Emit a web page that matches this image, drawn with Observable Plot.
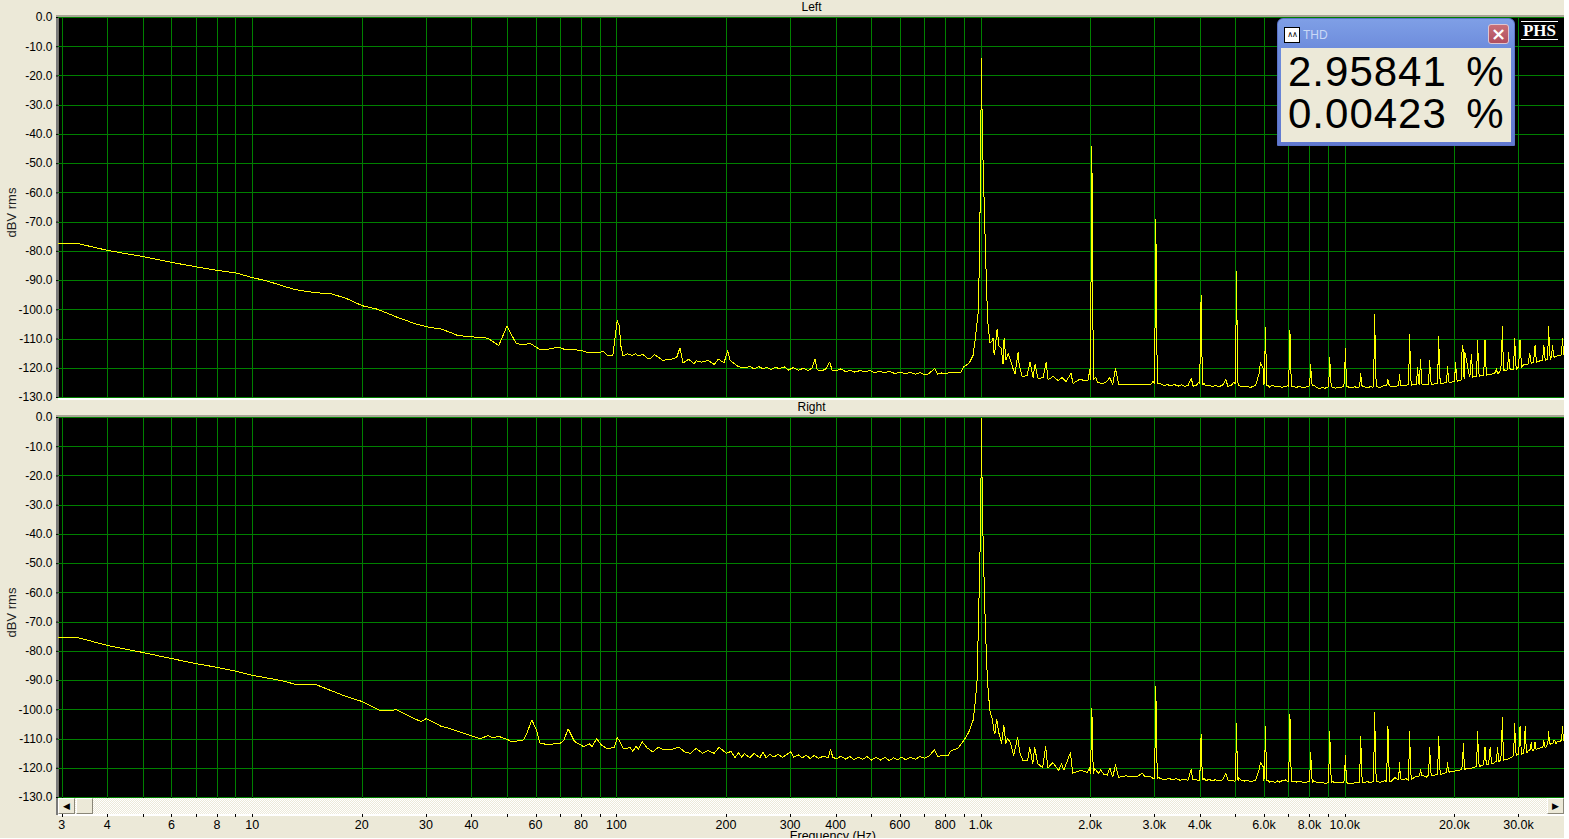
<!DOCTYPE html>
<html>
<head>
<meta charset="utf-8">
<script src="https://cdn.jsdelivr.net/npm/d3@7"></script>
<script src="https://cdn.jsdelivr.net/npm/@observablehq/plot@0.6"></script>
<style>
html,body{margin:0;padding:0;background:#fff;overflow:hidden}
#page{position:relative;width:1564px;height:838px;background:#ece9d8;overflow:hidden;font-family:"Liberation Sans",Arial,sans-serif}
#page > div.panel{position:absolute;left:0;width:1569px;z-index:1}
.strip{position:absolute;background:#fff;z-index:0}
.edge{position:absolute;z-index:0}
#scroll{position:absolute;left:58px;top:798px;width:1506px;height:16px;z-index:2;
 background-color:#f6f4ec;background-image:repeating-conic-gradient(#ece9d8 0 25%,#fff 0 50%);background-size:2px 2px}
.sbtn{position:absolute;top:0;width:15px;background:#ece9d8;border:1px solid;border-color:#fff #8a8778 #8a8778 #fff;box-sizing:content-box;height:14px;font-size:9px;line-height:14px;text-align:center;color:#000;font-family:"DejaVu Sans"}
#thd{position:absolute;left:1277px;top:18px;width:238px;height:128px;z-index:3;box-sizing:border-box;background:linear-gradient(#7f9fe6 0,#6d8cdc 30px,#6179d0 100%);border-radius:6px 6px 0 0;border:1px solid #5a72c8}
#thdTitle{position:absolute;left:25px;top:9px;color:#c9d8f6;font-size:12px}
#thdIcon{position:absolute;left:6px;top:8px;width:14px;height:14px;background:#fff;border:1px solid #000;font:8px/14px "DejaVu Sans";text-align:center;color:#000;overflow:hidden;letter-spacing:-1px}
#thdClose{position:absolute;left:210px;top:5px;width:19px;height:18px;background:linear-gradient(#c86f78,#b04e60);border:1px solid #dfc5d0;border-radius:3px;color:#fff;font:bold 18px/18px "DejaVu Sans";text-align:center}
#thdBody{position:absolute;left:3px;top:29px;width:230px;height:94px;background:#ece9d8}
#thdVals{position:absolute;left:7px;top:3px;font-size:42px;line-height:42px;letter-spacing:1px;word-spacing:-3px;color:#000;white-space:pre}
#phs{position:absolute;left:1521px;top:21px;width:37px;height:17px;border-top:1px solid #fff;border-bottom:1px solid #fff;color:#fff;z-index:3;font:bold 17px/17px "Liberation Serif",serif;text-align:center}
</style>
</head>
<body>
<div id="page">
  <div class="strip" style="left:58px;top:398px;width:1506px;height:2px"></div>
  <div class="strip" style="left:58px;top:814px;width:1506px;height:2px"></div>
  <div class="edge" style="left:56px;top:15px;width:1508px;height:2px;background:#a8a596"></div>
  <div class="edge" style="left:56px;top:17px;width:2px;height:381px;background:#7a7a7a"></div>
  <div class="edge" style="left:56px;top:415px;width:1508px;height:2px;background:#a8a596"></div>
  <div class="edge" style="left:56px;top:417px;width:2px;height:398px;background:#7a7a7a"></div>
  <div id="scroll">
    <div class="sbtn" style="left:0">&#9664;</div>
    <div class="sbtn" style="left:18px"></div>
    <div class="sbtn" style="right:0">&#9654;</div>
  </div>
  <div id="thd">
    <div id="thdIcon">&#8743;&#8743;</div>
    <div id="thdTitle">THD</div>
    <div id="thdClose">&#215;</div>
    <div id="thdBody">
      <div id="thdVals">2.95841  %
0.00423  %</div>
    </div>
  </div>
  <div id="phs">PHS</div>
</div>
<script>
// Axis content
const gridFreqs = [3,4,5,6,7,8,9,10,20,30,40,50,60,70,80,90,100,200,300,400,500,600,700,800,900,1000,2000,3000,4000,5000,6000,7000,8000,9000,10000,20000,30000];
const labelFreqs = [3,4,6,8,10,20,30,40,60,80,100,200,300,400,600,800,1000,2000,3000,4000,6000,8000,10000,20000,30000];
const labelTexts = ["3","4","6","8","10","20","30","40","60","80","100","200","300","400","600","800","1.0k","2.0k","3.0k","4.0k","6.0k","8.0k","10.0k","20.0k","30.0k"];
const dbTicks = [0,-10,-20,-30,-40,-50,-60,-70,-80,-90,-100,-110,-120,-130];
const panelTitles = ["Left","Right"];
const xTitle = "Frequency (Hz)";
const yTitle = "dBV rms";

// Left channel: [Hz, dBV]
const leftLow = [[2.93,-77.3],[3.33,-77.4],[4,-79.7],[5,-81.8],[6,-83.8],[7,-85.3],[8,-86.5],[9,-87.4],[10,-89],[11,-90.2],[12,-91.7],[13,-93],[14,-93.7],[15.4,-94.3],[16.5,-94.6],[18,-96],[20,-98.6],[22,-99.8],[25,-102.6],[28,-104.8],[30,-105.8],[33,-106.6],[35,-107.8],[36.6,-108.8],[39.7,-109.2],[44.2,-109.7],[47.4,-112.2],[49.9,-105.6],[52.8,-111.3],[54.5,-111.9],[58,-111.6],[61.5,-113.6],[65.5,-113.4],[69,-112.7],[72,-113.6],[79.5,-113.8],[83,-114.6],[92,-114.4],[94.5,-115.7],[97.5,-115.7],[100.2,-103.7],[101.5,-105.4],[102.7,-112.8],[104,-115.7],[107,-115.1],[110.5,-115.6],[112.5,-115],[114.5,-115.7],[118,-115.3],[121,-116.5],[123.5,-116.8],[127,-115.3],[133.5,-117.3],[141.5,-116.9],[146,-116.3],[149,-113],[152,-118.2],[157.5,-116.9],[163,-118.5],[165,-117.4],[170.5,-117.9],[178,-117.3],[185,-118.7],[190,-116.9],[197,-118.1],[201.5,-113.9],[204.5,-117.3],[216,-119.5]];
const leftMid = [[225,-119.9],[232,-119.3],[238,-120.3],[245,-119.4],[252,-120.2],[258,-119.6],[265,-120.5],[272,-119.7],[280,-120.1],[288,-119.5],[296,-120.6],[305,-119.8],[315,-120.7],[325,-120],[335,-120.8],[343,-120],[350,-116.8],[355,-120.5],[365,-120.9],[375,-120.2],[384,-117.8],[390,-120.7],[400,-120.9],[412,-120.2],[425,-121.2],[437,-120.6],[450,-121.3],[465,-120.8],[480,-121.2],[495,-120.8],[510,-121.6],[525,-121],[540,-121.5],[560,-121.1],[580,-121.8],[600,-121.3],[620,-121.9],[640,-121.4],[660,-122],[680,-121.5],[700,-122.3],[720,-121.8],[746,-120],[760,-122],[780,-121.6],[800,-121.9]];
const leftMain = [[827,-121.3],[881,-121.3],[898,-119.4],[927,-118.3],[951,-115.6],[963,-110.5],[981,-101.4],[987,-90],[994,-65],[1000,-31],[1003,-13.7],[1006,-31],[1013,-50],[1026,-75],[1034,-90],[1039,-97.9],[1045,-104.8],[1058,-111.3],[1072,-110.6],[1079,-109.6],[1086,-115.3],[1092,-113.9],[1107,-106.7],[1120,-112.3],[1135,-113],[1149,-118.4],[1157,-109.6],[1171,-117.3],[1186,-115],[1201,-116.7],[1224,-120.1],[1240,-121.9],[1264,-114.6],[1272,-118.4],[1296,-122.8],[1338,-122.5],[1363,-118],[1390,-123.2],[1407,-118.7],[1434,-123.5],[1480,-123.2],[1509,-118],[1528,-123.9],[1577,-122.8],[1628,-124.2],[1669,-123.2],[1712,-124.5],[1766,-121.8],[1789,-125.2],[1858,-123.9],[1966,-124.2],[1992,-120.1]];
const leftFloor = [[2065,-123],[2090,-124.8],[2150,-125.2],[2200,-124.9],[2257,-123.2],[2300,-125.6],[2340,-120.1],[2390,-125.6],[2450,-125.7],[2520,-125.5],[2600,-125.6],[2680,-125.4],[2750,-125.7],[2850,-125.6],[2920,-125.5],[2970,-124.5],[3080,-125],[3130,-125.5],[3180,-125.9],[3250,-125.6],[3320,-126],[3400,-125.6],[3480,-126.1],[3550,-125.7],[3630,-126.2],[3700,-125.9],[3780,-123.5],[3820,-126.1],[3900,-125.9],[3960,-124.8],[4100,-125.3],[4140,-126],[4200,-125.7],[4300,-126.2],[4400,-126],[4500,-126.2],[4600,-125.9],[4700,-123.9],[4760,-126.1],[4850,-126],[4960,-124.6],[5100,-125.9],[5180,-126.2],[5280,-126.4],[5380,-126.1],[5480,-126.6],[5580,-126.2],[5680,-125.8],[5800,-121.8],[5850,-118],[5950,-120],[6130,-125.8],[6200,-126.4],[6300,-125.8],[6420,-126.3],[6550,-126.2],[6700,-126.5],[6850,-126.3],[6960,-125.9],[7200,-126.3],[7350,-126.5],[7500,-126.2],[7650,-126.6],[7800,-126.4],[7950,-126.2],[8200,-125.8],[8350,-126.6],[8500,-127],[8650,-126.6],[8800,-126.8],[8950,-126.5],[9250,-126.5],[9400,-126.8],[9550,-126.4],[9700,-126.7],[9850,-126.3],[10200,-126.4],[10400,-126.7],[10600,-126.3],[10800,-126.6],[11300,-126.4],[11500,-126.6],[11750,-126.3],[11920,-126.5],[12300,-126.4],[12500,-126.5],[12800,-125.9],[13400,-126.2],[13700,-126.3],[13950,-125.9],[14400,-126],[14700,-125.9],[14880,-125.6],[15300,-125.7],[15600,-125.6],[16350,-125.5],[16800,-125.6],[17300,-125.5],[17700,-125.3],[18400,-125.2],[18800,-125],[19400,-124.8],[19900,-124.6],[20500,-124.2],[20800,-124],[21300,-114.6],[21600,-118.3],[21900,-122.4],[22600,-122.9],[23600,-122.5],[24000,-122.4],[24800,-122],[25200,-122.1],[25700,-121.5],[26400,-121.6],[26600,-120.9],[27400,-120.5],[27800,-120.8],[28600,-120.4],[29000,-120.3],[29800,-119.8],[30600,-119.3],[31000,-118.7],[31600,-118.9],[32500,-118],[33600,-117.9],[34600,-117.2],[35600,-117],[36600,-116.4],[37600,-116],[38500,-115.7],[39000,-115.5],[40000,-114.5]];
const leftSpikeFreq     = [2015,3020,4020,5030,6040,7050,8040,9070,10010,11030,12050,13100,14100,15030,15800,16100,17060,18060,19100,20100,21000,22200,23100,24200,26000,27000,28100,29200,30200,32100,33200,35100,36200,37100,39500];
const leftSpikeFloor    = [-124,-125.2,-125.5,-125.5,-125.8,-126.2,-126,-126.3,-126.2,-126.4,-126.3,-126,-126,-125.8,-125.6,-125.6,-125.5,-125.3,-125,-124.5,-123.8,-123,-122.8,-122.4,-121.8,-120.8,-120.5,-120.4,-119.8,-118.4,-118,-117.3,-117,-116.3,-115.6];
const leftSpikeShoulder = [-74.3,-96.5,-109.4,-105,-115,-116.5,-122.5,-121.7,-119.4,-124.2,-114.2,-125,-124.2,-117,-122.5,-120.5,-121,-117,-122,-121,-113.8,-118,-116.8,-116.5,-121,-113.2,-117.5,-114.7,-113.6,-116,-114.5,-114.5,-111.5,-114,-112.5];
const leftSpikeTop      = [-44,-69.1,-94.8,-86.6,-106,-107,-118.5,-116.2,-112.9,-121.5,-101.6,-123.8,-121.9,-108.2,-119.6,-116.8,-117.3,-108.8,-119.1,-118,-111.9,-115.2,-110.5,-110.2,-120,-105.4,-114.5,-109.6,-110.2,-114.7,-112.2,-111.9,-105.7,-111.9,-109.6];

// Right channel: [Hz, dBV]
const rightLow = [[2.93,-75.3],[3.33,-75.4],[4,-78],[5,-80.4],[6,-82.5],[7,-84.2],[8,-85.5],[9,-86.8],[10,-88.2],[12,-90],[13.2,-91.4],[15,-91.5],[17.5,-94.8],[20,-97.2],[22.5,-100.4],[24.8,-100],[27.3,-102.6],[29,-104],[30,-103],[33,-105.7],[35,-106.5],[36.6,-107.4],[39,-108.5],[42.3,-109.9],[44.2,-108.8],[45.7,-109.6],[47.4,-109.1],[50.2,-110.2],[51.5,-111],[55.5,-110.3],[57,-107.1],[58.4,-103.4],[60.2,-107.1],[61.5,-111.4],[64.5,-111.9],[70,-111.4],[71.5,-110.5],[73.5,-106.5],[76.5,-110.8],[81,-112.6],[84,-111.6],[85.5,-112.6],[88,-109.9],[90.5,-111.9],[94,-113.4],[98.5,-112.8],[100.2,-109.6],[101.5,-110.3],[104,-113.2],[109,-113],[110.5,-114.2],[113,-112.5],[114.5,-113.4],[117.5,-111],[121,-113],[125.5,-114.4],[130,-112.8],[135,-113.7],[141.5,-113.5],[148,-112.8],[154,-114.5],[159.5,-114.9],[165,-113.2],[172,-114.9],[178,-113.9],[185,-114.9],[191,-112.8],[200,-114.9],[206,-114.2],[211,-116.4],[216,-114.7],[220,-116.2],[224,-115],[232,-116.4],[238,-114.9],[247,-116.4],[252,-114.4],[257,-116.4],[263,-115.2]];
const rightMid = [[270,-116.2],[277,-115.2],[285,-116.3],[292,-115.4],[300,-114.4],[306,-116.2],[315,-115.4],[323,-116.4],[331,-115.5],[340,-116.7],[348,-115.6],[358,-116.6],[370,-115.8],[380,-116.5],[386,-113.6],[392,-116.3],[402,-116.8],[412,-115.8],[425,-116.9],[436,-116],[448,-117],[460,-116.2],[473,-117],[486,-116],[500,-117.2],[515,-116.3],[530,-117.2],[545,-116.2],[560,-117.4],[575,-116.4],[590,-117.1],[605,-116.2],[620,-117],[640,-116.3],[660,-116.9],[680,-116],[700,-116.6],[720,-115.8],[745,-113.7],[760,-116],[785,-115.5],[810,-115.8]];
const rightMain = [[827,-114],[863,-113.2],[897,-110.5],[925,-107.7],[951,-103.6],[963,-97.9],[975,-90],[984,-70],[994,-45],[1000,-20],[1003,-0.3],[1006,-20],[1014,-45],[1028,-72],[1041,-90],[1057,-100.2],[1076,-103.6],[1083,-107],[1092,-108.1],[1104,-103],[1118,-107.7],[1139,-111.5],[1155,-105.3],[1169,-111.5],[1184,-109.8],[1206,-111.5],[1229,-115.6],[1260,-109.4],[1277,-114.6],[1302,-117.3],[1342,-117.3],[1360,-112.9],[1387,-118.4],[1404,-112.9],[1431,-118.4],[1476,-119.8],[1505,-112.5],[1525,-120],[1574,-118],[1634,-120.7],[1665,-118.4],[1687,-120.7],[1760,-114.6],[1785,-121.7],[1880,-120.7],[1960,-121.4],[1988,-119.8]];
const rightFloor = [[2050,-120.1],[2104,-121.7],[2130,-120.6],[2170,-122],[2220,-122.3],[2257,-119.8],[2300,-123.1],[2340,-118.7],[2385,-123.1],[2440,-122.8],[2500,-122.6],[2600,-123],[2680,-122.8],[2775,-121.7],[2820,-123],[2900,-122.7],[2970,-123.5],[3070,-123.2],[3130,-123.6],[3200,-124],[3280,-123.4],[3350,-124],[3430,-123.5],[3520,-124.1],[3600,-123.8],[3700,-124.1],[3780,-120.2],[3810,-124],[3900,-123.9],[3960,-124.3],[4090,-123.4],[4150,-124.2],[4230,-123.8],[4310,-124.3],[4400,-123.9],[4500,-124.4],[4600,-124],[4700,-121.8],[4760,-124],[4850,-124.2],[4960,-124.4],[5100,-123.2],[5180,-124.1],[5280,-124.4],[5380,-124],[5480,-124.5],[5580,-124.4],[5680,-124],[5800,-120.5],[5850,-118],[5950,-119.5],[6130,-124.2],[6200,-124.7],[6300,-124.4],[6420,-124.9],[6520,-124.3],[6600,-124.7],[6720,-124.2],[6850,-124],[6960,-124.6],[7200,-124.4],[7350,-124.7],[7500,-124.5],[7650,-124.8],[7800,-124.8],[7950,-124.5],[8200,-124.3],[8350,-124.8],[8500,-125],[8650,-124.7],[8800,-125.2],[8950,-125],[9250,-124.6],[9400,-125],[9550,-124.7],[9700,-125],[9850,-124.8],[10200,-125.1],[10400,-125.2],[10600,-125],[10800,-125],[11300,-124.8],[11500,-124.6],[11750,-124.9],[11900,-124.6],[12300,-124.6],[12500,-124.8],[12800,-124.3],[13400,-124.4],[13700,-123.2],[13950,-124],[14400,-123.8],[14700,-123.6],[14880,-124],[15300,-123.6],[15600,-122.8],[15800,-122.9],[16350,-122.5],[16700,-123],[17300,-122.6],[17700,-122.2],[18400,-122],[18800,-121.6],[19400,-121],[19900,-121],[20400,-120.7],[20800,-120.5],[21500,-120.2],[22000,-120.2],[22600,-119.7],[23600,-119.2],[24700,-118.6],[25500,-118.4],[25900,-117.6],[26500,-117.3],[27500,-117],[28000,-116.8],[28700,-116.2],[29700,-115.4],[30700,-115],[31600,-114.6],[32000,-113.6],[32800,-113.8],[33600,-113.4],[34400,-113],[35200,-112.6],[35900,-111.9],[36600,-111.4],[37400,-112],[38200,-111],[39000,-110.7],[40000,-110]];
const rightSpikeFreq     = [2015,3020,4020,5030,6040,7050,8040,9070,10010,11030,12050,13100,14100,15030,16100,17060,18060,19100,21100,23100,24200,25000,26200,27000,29200,30200,31200,32400,33200,35100,36200,37500,39500];
const rightSpikeFloor    = [-122,-123.5,-124,-124.3,-124.2,-124.4,-124.8,-124.8,-125,-124.8,-124.6,-124.4,-124,-123.8,-122.7,-122.5,-122,-121.5,-120.3,-119.3,-118.8,-118.4,-118,-117.2,-115.8,-115.2,-114.8,-114.2,-113.8,-113,-112,-111.6,-110.6];
const rightSpikeShoulder = [-109.6,-107.7,-116.4,-114.6,-114.4,-113.2,-119.4,-116.2,-120.2,-116.7,-111.9,-113.7,-121.3,-115.3,-121.5,-117.7,-115.4,-119.8,-115.9,-113.6,-115.9,-115,-115,-109.7,-110.2,-110.2,-110.4,-113,-113,-112,-110.5,-110.6,-108.2];
const rightSpikeTop      = [-99.5,-91.7,-108.4,-104.4,-105.7,-101.6,-114.6,-107.4,-115.3,-108.8,-100.6,-105.4,-118,-107.4,-120.1,-112.6,-108.8,-117.7,-111.4,-107.4,-112.8,-112.8,-112.8,-102.5,-104.6,-105.7,-105.7,-111.1,-111.1,-110.5,-107.4,-110.5,-105.4];

// Assemble one drawable table per channel: the read floor plus each read peak's floor, shoulder and top.
function buildTrace(floors, freq, floor, shoulder, top) {
  const clear = floors.filter(([f]) => !freq.some(s => Math.abs(f / s - 1) < 0.0095));
  const rows = clear.map(([f, db]) => ({f, db}));
  freq.forEach((s, i) => {
    rows.push({f: s * 0.9905, db: floor[i]}, {f: s * 0.9968, db: shoulder[i]}, {f: s, db: top[i]},
              {f: s * 1.0032, db: shoulder[i]}, {f: s * 1.0095, db: floor[i]});
  });
  return rows.sort((a, b) => a.f - b.f);
}
const leftTrace = buildTrace([...leftLow, ...leftMid, ...leftMain, ...leftFloor], leftSpikeFreq, leftSpikeFloor, leftSpikeShoulder, leftSpikeTop);
const rightTrace = buildTrace([...rightLow, ...rightMid, ...rightMain, ...rightFloor], rightSpikeFreq, rightSpikeFloor, rightSpikeShoulder, rightSpikeTop);

const labelOf = new Map(labelFreqs.map((f, i) => [f, labelTexts[i]]));

function panel(title, trace, top, height, marginBottom, withAxis) {
  const marks = [
    Plot.frame({fill: "#000", stroke: "none"}),
    Plot.ruleX(gridFreqs, {stroke: "#008000", strokeOpacity: 1, strokeWidth: 1, shapeRendering: "crispEdges"}),
    Plot.ruleY(dbTicks, {stroke: "#008000", strokeOpacity: 1, strokeWidth: 1, shapeRendering: "crispEdges"}),
    Plot.line(trace, {x: "f", y: "db", stroke: "#ffff00", strokeWidth: 1, shapeRendering: "crispEdges", strokeLinejoin: "miter", strokeMiterlimit: 2}),
    Plot.axisY({ticks: dbTicks, tickFormat: d => d.toFixed(1), tickSize: 2, tickPadding: 4, label: null, stroke: "#000"}),
    Plot.text([title], {text: d => d, frameAnchor: "top", dy: -10.5, lineAnchor: "middle", fill: "#000"}),
    Plot.text([yTitle], {text: d => d, y: () => -66.7, frameAnchor: "left", textAnchor: "middle", dx: -47, rotate: -90, fill: "#222", fontSize: 13})
  ];
  if (withAxis) {
    marks.push(
      Plot.axisX({ticks: gridFreqs, tickFormat: () => "", tickSize: 20, tickPadding: 0, label: null, stroke: "#000", shapeRendering: "crispEdges"}),
      Plot.text(labelFreqs, {x: d => d, text: d => labelOf.get(d), frameAnchor: "bottom", dy: 27, dx: -0.5, lineAnchor: "middle", fill: "#000", fontSize: 12.5}),
      Plot.text([xTitle], {text: d => d, x: () => 392, frameAnchor: "bottom", dy: 38.5, lineAnchor: "middle", fill: "#000", fontSize: 12.5})
    );
  }
  const chart = Plot.plot({
    width: 1569, height, marginLeft: 58, marginRight: 5, marginTop: 17, marginBottom,
    x: {type: "log", domain: [2.93, 40000], axis: null},
    y: {domain: [-130, 0], axis: null},
    style: {background: "transparent", fontFamily: "'Liberation Sans', Arial, sans-serif", fontSize: "12px", overflow: "visible", maxWidth: "none", width: "1569px"},
    marks
  });
  const holder = document.createElement("div");
  holder.className = "panel";
  holder.style.top = top + "px";
  holder.appendChild(chart);
  document.getElementById("page").appendChild(holder);
}
panel(panelTitles[0], leftTrace, 0, 398, 1, false);
panel(panelTitles[1], rightTrace, 400, 438, 41, true);
</script>
</body>
</html>
